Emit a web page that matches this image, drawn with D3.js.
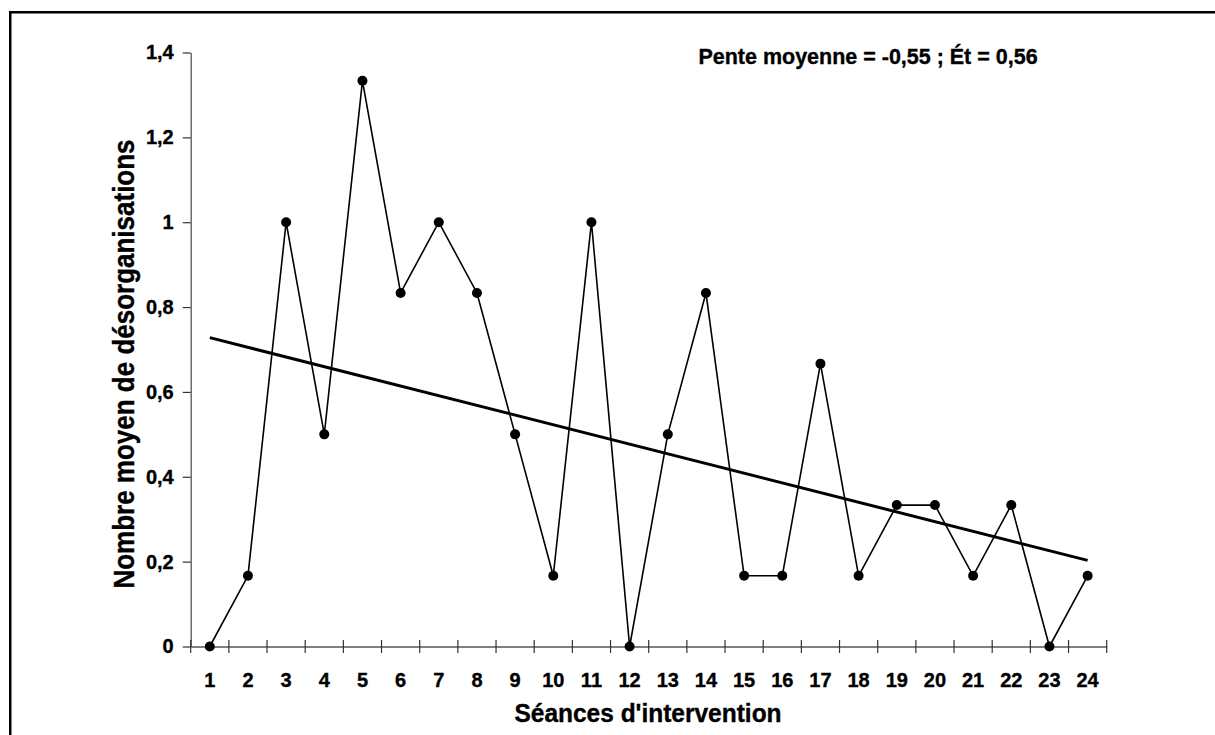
<!DOCTYPE html>
<html>
<head>
<meta charset="utf-8">
<script src="https://cdn.jsdelivr.net/npm/d3@7"></script>
<style>
  html, body { margin: 0; padding: 0; background: #fff; }
  svg { display: block; }
  text { font-family: Arial, "Liberation Sans", Helvetica, sans-serif; font-weight: bold; fill: #000; stroke: #000; stroke-width: 0.35px; }
</style>
</head>
<body>
<svg id="chart" width="1215" height="735"></svg>
<script>
// ---- Data ----
const sessions = ["1","2","3","4","5","6","7","8","9","10","11","12","13","14","15","16","17","18","19","20","21","22","23","24"];
const meanDisorganisations = [0, 0.1667, 1, 0.5, 1.3333, 0.8333, 1, 0.8333, 0.5, 0.1667, 1, 0, 0.5, 0.8333, 0.1667, 0.1667, 0.6667, 0.1667, 0.3333, 0.3333, 0.1667, 0.3333, 0, 0.1667];
const trendSessions = ["1", "24"];
const trendValues = [0.728, 0.203];
const yTickValues = [0, 0.2, 0.4, 0.6, 0.8, 1, 1.2, 1.4];
const yTickLabels = ["0", "0,2", "0,4", "0,6", "0,8", "1", "1,2", "1,4"];
const annotationText = "Pente moyenne = -0,55 ; Ét = 0,56";
const xTitle = "Séances d'intervention";
const yTitle = "Nombre moyen de désorganisations";

const svg = d3.select("#chart");

// Outer frame (cut off at right/bottom in the reference)
svg.append("rect")
  .attr("x", 10.25).attr("y", 12.25)
  .attr("width", 1400).attr("height", 1000)
  .attr("fill", "none").attr("stroke", "#000").attr("stroke-width", 2.5);

const x0 = 190.7, x1 = 1106.7, yTop = 52.5, yBot = 646.5;

const x = d3.scaleBand().domain(sessions).range([x0, x1]).paddingInner(0).paddingOuter(0);
const y = d3.scaleLinear().domain([0, 1.4]).range([yBot, yTop]);
const cx = d => x(d) + x.bandwidth() / 2;

// Y axis
const yAxis = d3.axisLeft(y).tickValues(yTickValues)
  .tickFormat((d, i) => yTickLabels[i]).tickSizeInner(8).tickSizeOuter(0).tickPadding(9);
const gy = svg.append("g").attr("transform", `translate(${x0},0)`).call(yAxis);
gy.select(".domain").attr("stroke", "#555").attr("stroke-width", 1.3);
gy.selectAll(".tick line").attr("stroke", "#333").attr("stroke-width", 1.2);
gy.selectAll(".tick text").style("font-size", "20px").attr("font-family", null);

// X axis
const xAxis = d3.axisBottom(x).tickSize(0).tickPadding(0);
const gx = svg.append("g").attr("transform", `translate(0,${yBot})`).call(xAxis);
gx.select(".domain").attr("stroke", "#555").attr("stroke-width", 1.3);
gx.selectAll(".tick line").remove();
gx.selectAll(".tick text").style("font-size", "20px").attr("font-family", null)
  .attr("dy", null).attr("y", 40);
// band boundary ticks crossing the axis
const boundaries = sessions.map(s => x(s)).concat([x1]);
svg.append("g").selectAll("line").data(boundaries).join("line")
  .attr("x1", d => d).attr("x2", d => d)
  .attr("y1", yBot - 6.5).attr("y2", yBot + 6.5)
  .attr("stroke", "#333").attr("stroke-width", 1.2);

// Data line
const line = d3.line().x((d, i) => cx(sessions[i])).y(d => y(d));
svg.append("path").datum(meanDisorganisations)
  .attr("d", line).attr("fill", "none").attr("stroke", "#000").attr("stroke-width", 1.6);

// Trend line
const tline = d3.line().x((d, i) => cx(trendSessions[i])).y(d => y(d));
svg.append("path").datum(trendValues)
  .attr("d", tline).attr("fill", "none").attr("stroke", "#000").attr("stroke-width", 3);

// Markers
svg.append("g").selectAll("circle").data(meanDisorganisations).join("circle")
  .attr("cx", (d, i) => cx(sessions[i])).attr("cy", d => y(d))
  .attr("r", 5).attr("fill", "#000");

// Annotation
svg.append("text").attr("transform", "translate(868,64) scale(1,1.06)").attr("text-anchor", "middle")
  .style("font-size", "21.5px").text(annotationText);

// Axis titles
svg.append("text").attr("transform", "translate(648,722) scale(1,1.04)").attr("text-anchor", "middle")
  .style("font-size", "24.5px").text(xTitle);
svg.append("text").attr("transform", "translate(134,364) rotate(-90) scale(1,1.12)")
  .attr("text-anchor", "middle").style("font-size", "26px").text(yTitle);
</script>
</body>
</html>
